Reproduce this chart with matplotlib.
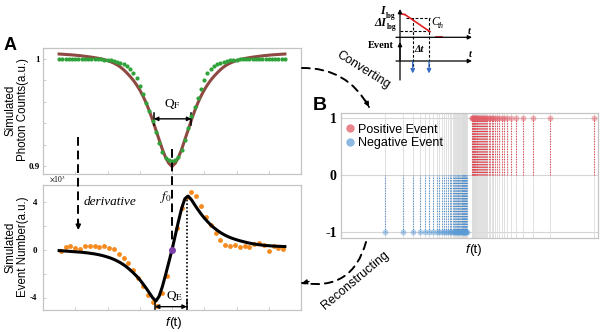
import matplotlib
matplotlib.use('Agg')
import matplotlib.pyplot as plt
from matplotlib.patches import FancyArrowPatch
from matplotlib.lines import Line2D
import numpy as np

plt.rcParams['mathtext.fontset'] = 'stix'
plt.rcParams['font.family'] = ['Liberation Sans', 'DejaVu Sans']
SERIF = ['Liberation Serif', 'DejaVu Serif']
FRAME = '#C4C4C4'

# ---------------- Panel A data ----------------
freq = np.linspace(0.5, 7.5, 71)
photon_measured = [
    1.0000, 1.0000, 1.0000, 1.0000, 1.0000, 1.0000, 1.0000, 1.0000, 1.0000, 1.0000,
    1.0000, 1.0000, 1.0000, 0.9998, 0.9995, 0.9992, 0.9988, 0.9982, 0.9975, 0.9965,
    0.9950, 0.9930, 0.9905, 0.9870, 0.9820, 0.9750, 0.9675, 0.9595, 0.9515, 0.9425,
    0.9325, 0.9220, 0.9130, 0.9075, 0.9058, 0.9052,
    0.9060, 0.9085, 0.9150, 0.9245, 0.9360, 0.9470, 0.9555, 0.9635, 0.9720, 0.9800,
    0.9870, 0.9905, 0.9935, 0.9955, 0.9967, 0.9975, 0.9982, 0.9988, 0.9992, 0.9995,
    0.9997, 0.9999, 1.0000, 1.0000, 1.0000, 1.0000, 1.0000, 1.0000, 1.0000, 1.0000,
    1.0000, 1.0000, 1.0000, 1.0000, 1.0000]
photon_fit = [
    1.0046, 1.0044, 1.0042, 1.0040, 1.0038, 1.0035, 1.0032, 1.0029, 1.0025, 1.0021,
    1.0017, 1.0012, 1.0007, 1.0001, 0.9994, 0.9985, 0.9974, 0.9961, 0.9945, 0.9925,
    0.9900, 0.9870, 0.9838, 0.9802, 0.9760, 0.9712, 0.9655, 0.9590, 0.9515, 0.9430,
    0.9340, 0.9250, 0.9160, 0.9085, 0.9030, 0.9000,
    0.9030, 0.9085, 0.9160, 0.9250, 0.9340, 0.9430, 0.9515, 0.9590, 0.9655, 0.9712,
    0.9760, 0.9802, 0.9838, 0.9870, 0.9900, 0.9925, 0.9945, 0.9961, 0.9974, 0.9985,
    0.9994, 1.0001, 1.0007, 1.0012, 1.0017, 1.0021, 1.0025, 1.0029, 1.0032, 1.0035,
    1.0038, 1.0040, 1.0042, 1.0044, 1.0046]

event_freq = np.linspace(0.55, 7.45, 47)
event_measured = [
    -0.10, 0.25, 0.35, 0.15, 0.10, 0.35, 0.30, 0.30, 0.25, 0.30,
    0.15, 0.05, -0.35, -0.65, -1.10, -1.70, -2.40, -3.00, -3.80, -4.40,
    -4.75, -3.60, -2.20, 0.10, 1.80, 3.50, 4.40, 4.90, 4.50, 3.70,
    2.80, 2.10, 1.40, 0.80, 0.45, 0.30, 0.45, 0.20, 0.35, 0.25,
    0.50, 0.55, 0.40, -0.10, 0.35, 0.15, 0.10]
event_fit = [
    -0.06, -0.08, -0.10, -0.12, -0.14, -0.16, -0.18, -0.20, -0.23, -0.26,
    -0.30, -0.34, -0.39, -0.45, -0.52, -0.60, -0.69, -0.80, -0.93, -1.08,
    -1.25, -1.45, -1.68, -1.93, -2.20, -2.50, -2.85, -3.22, -3.62, -4.02,
    -4.30, -3.90, -3.10, -2.10, -1.05, 0.00,
    1.20, 2.40, 3.50, 4.30, 4.52, 4.22, 3.80, 3.40, 3.02, 2.68,
    2.38, 2.10, 1.86, 1.65, 1.46, 1.30, 1.16, 1.04, 0.94, 0.85,
    0.77, 0.70, 0.63, 0.57, 0.52, 0.47, 0.43, 0.40, 0.37, 0.35,
    0.33, 0.31, 0.30, 0.29, 0.28]

f0 = 4.0
qf_edges = (3.44, 4.60)
qf_level = 0.9443
qe_edges = (3.47, 4.46)
qe_level = -4.77
qe_peak = 4.52

# ---------------- Panel B data ----------------
neg_events = [17.1, 24.0, 28.1, 30.7, 32.7, 34.4, 35.9, 37.2, 38.2, 39.3,
              40.2, 41.0, 41.7, 42.3, 42.9, 43.4, 43.9, 44.3, 44.7, 45.1,
              45.4, 45.7, 46.0, 46.3, 46.6, 46.9, 47.1, 47.3, 47.5, 47.7,
              47.9, 48.1, 48.3, 48.5, 48.7, 48.9]
pos_events = [50.9, 51.1, 51.3, 51.5, 51.7, 51.9, 52.1, 52.3, 52.5, 52.8,
              53.1, 53.4, 53.7, 54.0, 54.3, 54.7, 55.1, 55.5, 55.9, 56.4,
              56.9, 57.4, 58.0, 58.6, 59.2, 59.9, 60.6, 61.6, 62.5, 63.4,
              64.5, 66.0, 68.1, 70.7, 74.6, 81.3, 98.4]

W, H = 600, 332
fig = plt.figure(figsize=(W / 100, H / 100), dpi=100)


def box(x0, y0, x1, y1):
    return [x0 / W, 1 - y1 / H, (x1 - x0) / W, (y1 - y0) / H]


def style_frame(ax):
    for s in ax.spines.values():
        s.set_color(FRAME)
        s.set_linewidth(0.9)


def serif_ticklabels(ax, size):
    for lbl in ax.get_yticklabels():
        lbl.set_fontfamily(SERIF)
        lbl.set_fontweight('bold')
        lbl.set_fontsize(size)


# ---- A, top: photon counts ----
axT = fig.add_axes(box(43, 48, 301, 174))
axT.plot(freq, photon_fit, color='#8E4A42', lw=2.2, zorder=2)
axT.plot(freq, photon_measured, 'o', color='#2FA33A', ms=3.0, mew=0, zorder=3)
axT.set_xlim(0, 8)
axT.set_ylim(0.893, 1.0102)
axT.set_xticks(range(1, 8))
axT.set_xticklabels([])
axT.set_yticks([0.90, 0.92, 0.94, 0.96, 0.98, 1.00])
axT.set_yticklabels(['0.9', '', '', '', '', '1'])
axT.tick_params(direction='in', length=2.5, width=0.6, color=FRAME, pad=2)
serif_ticklabels(axT, 6.5)
style_frame(axT)
axT.annotate('', xy=(qf_edges[0], qf_level), xytext=(qf_edges[1], qf_level),
             arrowprops=dict(arrowstyle='<|-|>', color='k', lw=1.0,
                             mutation_scale=6, shrinkA=0, shrinkB=0))
for xe in qf_edges:
    axT.plot([xe, xe], [qf_level - 0.0055, qf_level + 0.0055], color='k', lw=1.1)
axT.text(f0 + 0.02, qf_level + 0.0075, r'Q$_{\mathrm{F}}$', ha='center', va='bottom',
         fontsize=9.5, family=SERIF)

# ---- A, bottom: event number ----
axE = fig.add_axes(box(43, 185, 301, 310))
axE.plot(event_freq, event_measured, 'o', color='#F58A1F', ms=3.5, mew=0, zorder=2)
axE.plot(freq, event_fit, color='k', lw=2.2, zorder=3)
axE.plot([f0], [0], 'o', color='#7D3FA8', ms=5, mew=0, zorder=4)
axE.set_xlim(0, 8)
axE.set_ylim(-5.05, 5.45)
axE.set_xticks(range(1, 8))
axE.set_xticklabels([])
axE.set_yticks([-4, -2, 0, 2, 4])
axE.set_yticklabels(['-4', '', '0', '', '4'])
axE.tick_params(direction='in', length=2.5, width=0.6, color=FRAME, pad=4)
serif_ticklabels(axE, 6.5)
style_frame(axE)
axE.plot([qe_edges[1], qe_edges[1]], [qe_peak, -5.05], color='k', lw=1.2,
         ls=(0, (1, 1.2)), zorder=3)
axE.annotate('', xy=(qe_edges[0], qe_level), xytext=(qe_edges[1], qe_level),
             arrowprops=dict(arrowstyle='<|-|>', color='k', lw=1.0,
                             mutation_scale=6, shrinkA=0, shrinkB=0))
for xe in qe_edges:
    axE.plot([xe, xe], [-4.2, -5.05], color='k', lw=1.1)
axE.text(4.08, qe_level + 0.3, r'Q$_{\mathrm{E}}$', ha='center', va='bottom',
         fontsize=9.5, family=SERIF)
axE.text(3.82, 4.45, r'$f_0$', ha='center', va='center', fontsize=9.5)
axE.text(0.18, 5.55, r'$\times$10$^3$', ha='left', va='bottom', fontsize=5.5,
         family=SERIF)

# ---- B: event stream ----
axB = fig.add_axes(box(341, 113, 598, 238))
axB.set_xlim(0, 100)
axB.set_ylim(-1.105, 1.089)
for yv in (-1, 0, 1):
    axB.axhline(yv, color='#D5D5D5', lw=0.8, zorder=0)
axB.vlines(neg_events + pos_events, -1.105, 1.089, color='#DCDCDC', lw=0.6, zorder=0)
axB.vlines(neg_events, -1, 0, color='#4F8FCF', lw=0.8, linestyles=(0, (1, 1.3)), zorder=1)
axB.vlines(pos_events, 0, 1, color='#E0434F', lw=0.8, linestyles=(0, (1, 1.3)), zorder=1)
axB.plot(neg_events, [-1] * len(neg_events), 'o', color='#5B9BD5', alpha=0.45,
         ms=4.2, mew=0, zorder=2)
axB.plot(pos_events, [1] * len(pos_events), 'o', color='#E35D68', alpha=0.45,
         ms=4.2, mew=0, zorder=2)
axB.set_xticks([])
axB.set_yticks([-1, 0, 1])
axB.set_yticklabels(['-1', '0', '1'])
axB.tick_params(axis='y', length=0, pad=3)
serif_ticklabels(axB, 10)
style_frame(axB)
handles = [Line2D([], [], marker='o', ls='none', color='#E8848C', ms=6, mew=0),
           Line2D([], [], marker='o', ls='none', color='#8DB8E2', ms=6, mew=0)]
axB.legend(handles, ['Positive Event', 'Negative Event'], loc='upper left',
           bbox_to_anchor=(-0.02, 0.975), frameon=False, fontsize=9,
           handletextpad=0.2, handlelength=1.0, labelspacing=0.1, borderaxespad=0.2)

# ---- figure-level annotations ----
ov = fig.add_axes([0, 0, 1, 1], zorder=10)
ov.set_xlim(0, W)
ov.set_ylim(H, 0)
ov.axis('off')

ov.text(10, 46, 'A', fontsize=13, fontweight='bold', ha='center', va='center')
ov.text(320, 105, 'B', fontsize=14, fontweight='bold', ha='center', va='center')
ov.text(17, 110, 'Simulated\nPhoton Counts(a.u.)', rotation=90, ha='center',
        va='center', fontsize=8.3, linespacing=1.05)
ov.text(17, 247, 'Simulated\nEvent Number(a.u.)', rotation=90, ha='center',
        va='center', fontsize=8.3, linespacing=1.05)

# f(t) axis captions
for xc, yc in ((171, 323), (471, 250)):
    ov.text(xc - 2, yc, 'f', style='italic', fontsize=9.5, ha='right', va='center')
    ov.text(xc - 2, yc, '(t)', fontsize=9.5, ha='left', va='center')

# f0 marker line and derivative arrow
x_f0 = 43 + f0 * (258 / 8)
ov.plot([x_f0, x_f0], [149, 242], color='k', lw=1.4, dashes=(4.5, 2.5))
ov.plot([78.3, 78.3], [137, 224], color='k', lw=1.4, dashes=(4.5, 2.5))
ov.annotate('', xy=(78.3, 230), xytext=(78.3, 221),
            arrowprops=dict(arrowstyle='-|>', color='k', lw=1.2, mutation_scale=7,
                            shrinkA=0, shrinkB=0))
ov.text(84, 202, 'derivative', style='italic', family=SERIF, fontsize=9.5,
        ha='left', va='center')


def dashed_curve(p0, p1, rad, head_from):
    ov.add_patch(FancyArrowPatch(p0, p1, connectionstyle=f'arc3,rad={rad}',
                                 arrowstyle='-', color='k', lw=1.4,
                                 linestyle=(0, (4, 3)), shrinkA=0, shrinkB=0))
    ov.annotate('', xy=p1, xytext=head_from,
                arrowprops=dict(arrowstyle='-|>', color='k', lw=1.0,
                                mutation_scale=7, shrinkA=0, shrinkB=0))


dashed_curve((302, 68), (369, 107), -0.3, (365.5, 100.5))
dashed_curve((366, 242), (302, 283), -0.45, (309, 281.5))
ov.text(363, 70, 'Converting', rotation=-32, ha='center', va='center', fontsize=9)
ov.text(355, 280, 'Reconstructing', rotation=40, ha='center', va='center', fontsize=9)


# ---- inset: log-intensity threshold sketch ----
def sk_arrow(x0, y0, x1, y1, color='k', lw=0.9, ms=6):
    ov.annotate('', xy=(x1, y1), xytext=(x0, y0),
                arrowprops=dict(arrowstyle='-|>', color=color, lw=lw,
                                mutation_scale=ms, shrinkA=0, shrinkB=0))


sk_arrow(400, 80, 400, 9)
sk_arrow(400, 60, 400, 42)
sk_arrow(396, 37.3, 472, 37.3)
sk_arrow(396, 61, 472, 61)
dk = dict(color='k', lw=0.8, dashes=(2.5, 1.6))
ov.plot([406, 430], [18.3, 18.3], **dk)
ov.plot([400, 430], [30.7, 30.7], **dk)
ov.plot([412.7, 412.7], [18.3, 72], **dk)
ov.plot([429, 429], [18.3, 72], **dk)
red = dict(color='#E02020', lw=1.2)
ov.plot([400, 405], [13.6, 14.6], **red)
ov.plot([405, 430], [14.6, 31.7], **red)
ov.plot([436, 442], [36.6, 36.6], **red)
sk_arrow(412.7, 61, 412.7, 73.5, color='#3A6FC8', lw=1.0, ms=6)
sk_arrow(429, 61, 429, 73.5, color='#3A6FC8', lw=1.0, ms=6)

bi = dict(family=SERIF, fontweight='bold', fontstyle='italic')
ov.text(385, 11, 'I', fontsize=8.5, ha='right', va='center', **bi)
ov.text(385.5, 15.5, 'log', fontsize=5.5, ha='left', va='center',
        family=SERIF, fontweight='bold')
ov.text(386, 22.5, 'ΔI', fontsize=8.5, ha='right', va='center', **bi)
ov.text(386.5, 27, 'log', fontsize=5.5, ha='left', va='center',
        family=SERIF, fontweight='bold')
ov.text(431, 22, 'C', fontsize=8.5, ha='left', va='center', family=SERIF,
        fontstyle='italic')
ov.text(438, 26, 'th', fontsize=5.5, ha='left', va='center', family=SERIF,
        fontstyle='italic')
ov.text(394, 45.5, 'Event', fontsize=7.5, ha='right', va='center', family=SERIF,
        fontweight='bold')
ov.text(414, 50, 'Δt', fontsize=7.5, ha='left', va='center', **bi)
ov.text(469, 31, 't', fontsize=7.5, ha='center', va='center', **bi)
ov.text(470, 54.5, 't', fontsize=7.5, ha='center', va='center', **bi)

fig.savefig('out.png', dpi=100)
